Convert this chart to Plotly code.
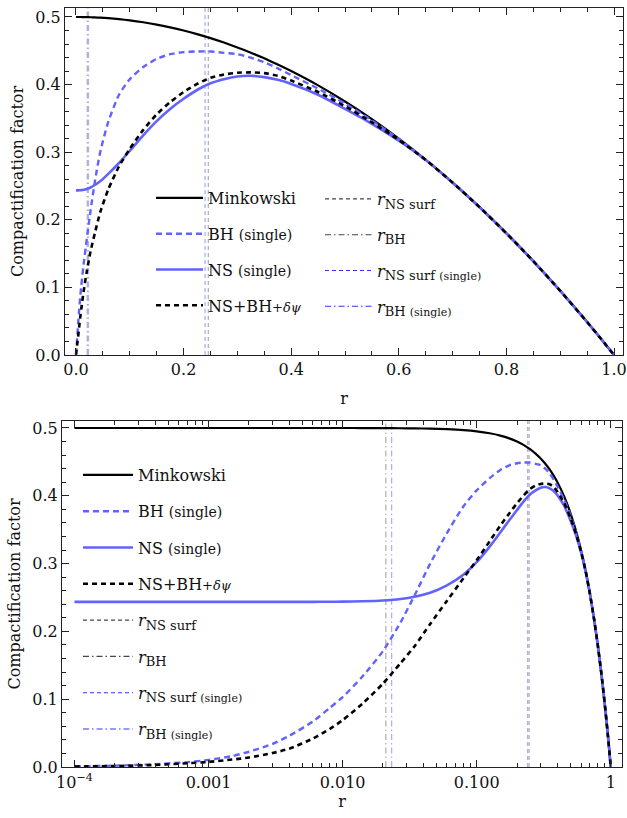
import plotly.graph_objects as go

# ---------------------------------------------------------------- data
r = [1e-4, 2e-4, 4e-4, 7e-4, 0.001, 0.0015, 0.002, 0.003, 0.004, 0.006,
     0.008, 0.01, 0.014, 0.02, 0.027, 0.035, 0.045, 0.06, 0.08, 0.1,
     0.125, 0.15, 0.175, 0.2, 0.225, 0.25, 0.275, 0.3, 0.325, 0.35,
     0.375, 0.4, 0.45, 0.5, 0.55, 0.6, 0.65, 0.7, 0.75, 0.8,
     0.85, 0.9, 0.95, 0.975, 1.0]

minkowski = [0.5, 0.5, 0.5, 0.5, 0.5, 0.5, 0.5, 0.5, 0.5, 0.5,
             0.5, 0.5, 0.4999, 0.4998, 0.4996, 0.4994, 0.499, 0.4982, 0.4968, 0.495,
             0.4922, 0.4888, 0.4847, 0.48, 0.4747, 0.4688, 0.4622, 0.455, 0.4472, 0.4388,
             0.4297, 0.42, 0.3988, 0.375, 0.3488, 0.32, 0.2888, 0.255, 0.2188, 0.18,
             0.1388, 0.095, 0.0488, 0.0247, 0.0]

bh_single = [0.001, 0.002, 0.0042, 0.0072, 0.0105, 0.016, 0.0225, 0.034, 0.046, 0.067,
             0.087, 0.103, 0.133, 0.171, 0.213, 0.256, 0.300, 0.345, 0.385, 0.408,
             0.426, 0.438, 0.445, 0.448, 0.449, 0.449, 0.447, 0.445, 0.440, 0.433,
             0.424, 0.414, 0.394, 0.372, 0.347, 0.3195, 0.2888, 0.255, 0.2188, 0.18,
             0.1388, 0.095, 0.0488, 0.0247, 0.0]

ns_single = [0.2435, 0.2435, 0.2435, 0.2435, 0.2435, 0.2435, 0.2435, 0.2435, 0.2435, 0.2436,
             0.2437, 0.2439, 0.2444, 0.2456, 0.2478, 0.2515, 0.257, 0.268, 0.284, 0.302,
             0.325, 0.346, 0.364, 0.379, 0.392, 0.402, 0.408, 0.412, 0.413, 0.411,
             0.407, 0.401, 0.385, 0.364, 0.342, 0.317, 0.2885, 0.255, 0.2188, 0.18,
             0.1388, 0.095, 0.0488, 0.0247, 0.0]

ns_bh_dpsi = [0.0007, 0.0014, 0.003, 0.0055, 0.0075, 0.011, 0.014, 0.0205, 0.027, 0.042,
              0.056, 0.069, 0.093, 0.123, 0.153, 0.180, 0.211, 0.245, 0.279, 0.305,
              0.333, 0.356, 0.374, 0.389, 0.401, 0.410, 0.415, 0.4175, 0.418, 0.417,
              0.413, 0.406, 0.389, 0.368, 0.344, 0.318, 0.2886, 0.255, 0.2188, 0.18,
              0.1388, 0.095, 0.0488, 0.0247, 0.0]

# radii marked by vertical guide lines
r_ns_surf = 0.246
r_bh = 0.021
r_ns_surf_single = 0.240
r_bh_single = 0.0232

# ticks
x_ticks_lin = [0.0, 0.2, 0.4, 0.6, 0.8, 1.0]
x_ticktext_lin = ["0.0", "0.2", "0.4", "0.6", "0.8", "1.0"]
x_ticks_log = [1e-4, 1e-3, 1e-2, 1e-1, 1.0]
x_ticktext_log = ["10<sup>\u22124</sup>", "0.001", "0.010", "0.100", "1"]
y_ticks = [0.0, 0.1, 0.2, 0.3, 0.4, 0.5]
y_ticktext = ["0.0", "0.1", "0.2", "0.3", "0.4", "0.5"]

# ---------------------------------------------------------------- style
W, H = 627, 818
FONT = "DejaVu Serif"
BLUE = "rgb(98,98,255)"
GUIDE_GRAY = "rgba(150,150,150,0.7)"
GUIDE_BLUE = "rgba(120,120,255,0.6)"
LEG_GRAY = "rgb(70,70,70)"
LEG_BLUE = "rgb(50,50,255)"
DASH_DOT = "6px,3px,1.5px,3px"


def sized(text, size):
    return "<span style='font-size:%dpx'>%s</span>" % (size, text)


curve_specs = [
    ("Minkowski", minkowski, dict(color="black", width=2.2, dash="solid")),
    ("BH " + sized("(single)", 14), bh_single, dict(color=BLUE, width=2.4, dash="6px,4px")),
    ("NS " + sized("(single)", 14), ns_single, dict(color=BLUE, width=2.6, dash="solid")),
    ("NS+BH" + sized("+<i>\u03b4\u03c8</i>", 13), ns_bh_dpsi, dict(color="black", width=2.6, dash="5px,4px")),
]

guide_specs = [
    ("<i>r</i><sub>" + sized("NS surf", 13) + "</sub>", r_ns_surf, GUIDE_GRAY, LEG_GRAY, "4px,3px"),
    ("<i>r</i><sub>" + sized("BH", 13) + "</sub>", r_bh, GUIDE_GRAY, LEG_GRAY, DASH_DOT),
    ("<i>r</i><sub>" + sized("NS surf ", 13) + sized("(single)", 11) + "</sub>",
     r_ns_surf_single, GUIDE_BLUE, LEG_BLUE, "4px,3px"),
    ("<i>r</i><sub>" + sized("BH ", 13) + sized("(single)", 11) + "</sub>",
     r_bh_single, GUIDE_BLUE, LEG_BLUE, DASH_DOT),
]

fig = go.Figure()

panels = [("x", "y", "legend", "legend2", "top"), ("x2", "y2", "legend3", "legend3", "bot")]
for xa, ya, leg_curves, leg_guides, tag in panels:
    # vertical guide lines
    for name, rv, col, legcol, dash in guide_specs:
        fig.add_trace(go.Scatter(
            x=[rv, rv], y=[0.0, 0.6], xaxis=xa, yaxis=ya, mode="lines",
            line=dict(color=col, width=1.3, dash=dash),
            showlegend=False, hoverinfo="skip"))
    # curves
    for name, vals, line in curve_specs:
        fig.add_trace(go.Scatter(
            x=r, y=vals, xaxis=xa, yaxis=ya, mode="lines", name=name,
            line=dict(line, shape="spline", smoothing=0.6),
            legend=leg_curves, legendgroup=tag + name, showlegend=True))
    # legend entries for the guide lines
    for name, rv, col, legcol, dash in guide_specs:
        fig.add_trace(go.Scatter(
            x=[None], y=[None], xaxis=xa, yaxis=ya, mode="lines", name=name,
            line=dict(color=legcol, width=1.1, dash=dash),
            legend=leg_guides, legendgroup=tag + name, showlegend=True))

axis_common = dict(
    showline=True, linecolor="#222", linewidth=1, mirror="allticks",
    ticks="inside", ticklen=7, tickwidth=1, tickcolor="#222",
    showgrid=False, zeroline=False, automargin=False,
    ticklabeloverflow="allow",
    tickfont=dict(family=FONT, size=16, color="#111"),
)
title_font = dict(family=FONT, size=16, color="#111")
leg_font = dict(family=FONT, size=16, color="#111")


def px_x(p):
    return p / W


def px_y(p):
    return 1 - p / H


fig.update_layout(
    width=W, height=H, margin=dict(l=0, r=0, t=0, b=0),
    paper_bgcolor="white", plot_bgcolor="white",
    font=dict(family=FONT, size=16, color="#111"),
    xaxis=dict(axis_common, domain=[px_x(65), px_x(623)], range=[-0.0204, 1.0167],
               tickvals=x_ticks_lin, ticktext=x_ticktext_lin, anchor="y",
               ticklabelstandoff=0,
               minor=dict(ticks="inside", ticklen=4, dtick=0.05, tickcolor="#222"),
               title=dict(text="r", font=title_font, standoff=14)),
    yaxis=dict(axis_common, domain=[px_y(355), px_y(8)], range=[0, 0.5133],
               tickvals=y_ticks, ticktext=y_ticktext, anchor="x",
               minor=dict(ticks="inside", ticklen=4, dtick=0.02, tickcolor="#222"),
               title=dict(text="Compactification factor", font=title_font, standoff=7)),
    xaxis2=dict(axis_common, type="log", domain=[px_x(62), px_x(622)], range=[-4.093, 0.084],
                tickvals=x_ticks_log, ticktext=x_ticktext_log, anchor="y2",
                ticklabelstandoff=1,
                minor=dict(ticks="inside", ticklen=4, tickcolor="#222",
                           tickvals=[k * 10.0 ** e for e in range(-4, 0) for k in range(2, 10)]),
                title=dict(text="r", font=title_font, standoff=4)),
    yaxis2=dict(axis_common, domain=[px_y(767), px_y(421)], range=[0, 0.5103],
                tickvals=y_ticks, ticktext=y_ticktext, anchor="x2",
                minor=dict(ticks="inside", ticklen=4, dtick=0.02, tickcolor="#222"),
                title=dict(text="Compactification factor", font=title_font, standoff=7)),
    legend=dict(x=px_x(151), y=px_y(181), xanchor="left", yanchor="top",
                bgcolor="rgba(0,0,0,0)", tracegroupgap=12, itemwidth=47, font=leg_font),
    legend2=dict(x=px_x(320), y=px_y(182), xanchor="left", yanchor="top",
                 bgcolor="rgba(0,0,0,0)", tracegroupgap=12, itemwidth=47, font=leg_font),
    legend3=dict(x=px_x(78), y=px_y(458), xanchor="left", yanchor="top",
                 bgcolor="rgba(0,0,0,0)", tracegroupgap=12.5, itemwidth=50, font=leg_font),
)

fig.write_html("out.html")
